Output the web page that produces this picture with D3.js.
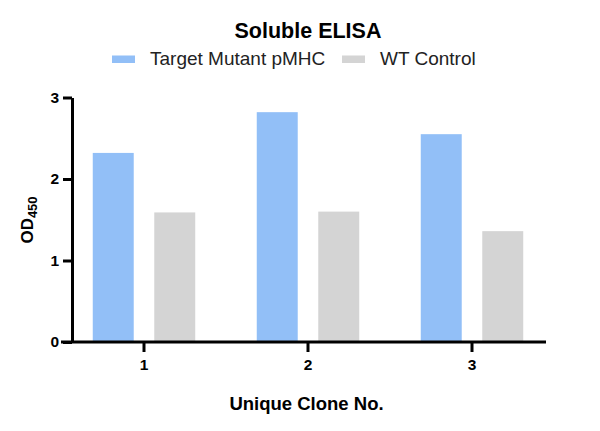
<!DOCTYPE html>
<html>
<head>
<meta charset="utf-8">
<script src="https://cdn.jsdelivr.net/npm/d3@7"></script>
<style>
  body { margin: 0; background: #fff; }
  text { font-family: "Liberation Sans", Arial, sans-serif; }
</style>
</head>
<body>
<div id="chart"></div>
<script>
// soluble ELISA bar chart

const clones = ["1", "2", "3"];
const seriesNames = ["Target Mutant pMHC", "WT Control"];
const targetValues = [2.32, 2.82, 2.55];
const controlValues = [1.59, 1.60, 1.36];
const yTicks = [0, 1, 2, 3];
const colors = ["#92BFF7", "#D4D4D4"];

const width = 600;
const height = 431;

const svg = d3.select("#chart")
    .append("svg")
    .attr("width", width)
    .attr("height", height);

const x = d3.scaleBand()
    .domain(clones)
    .range([62, 554]);

const xInner = d3.scaleBand()
    .domain(seriesNames)
    .range([0, x.bandwidth()])
    .paddingInner(0.334)
    .paddingOuter(0.5);

const y = d3.scaleLinear()
    .domain([0, 3])
    .range([342, 97.5]);

const rows = clones.map((c, i) => ({
    clone: c,
    values: [
        { name: seriesNames[0], value: targetValues[i] },
        { name: seriesNames[1], value: controlValues[i] }
    ]
}));

// bars
const groups = svg.selectAll("g.group")
    .data(rows)
    .enter()
    .append("g")
    .attr("class", "group")
    .attr("transform", d => `translate(${x(d.clone)},0)`);

groups.selectAll("rect")
    .data(d => d.values)
    .enter()
    .append("rect")
    .attr("x", d => xInner(d.name))
    .attr("width", xInner.bandwidth())
    .attr("y", d => y(d.value))
    .attr("height", d => y(0) - y(d.value))
    .attr("fill", (d, i) => colors[i]);

// y axis
const yAxis = svg.append("g")
    .attr("transform", "translate(72,0)")
    .call(d3.axisLeft(y).tickValues(yTicks).tickFormat(d3.format("d")).tickSize(9).tickSizeOuter(0));
yAxis.select(".domain").attr("stroke-width", 3).attr("stroke", "#000");
yAxis.selectAll(".tick line").attr("stroke-width", 3).attr("stroke", "#000");
yAxis.selectAll(".tick text")
    .attr("x", -13)
    .style("font-size", "15.5px")
    .style("font-weight", "bold")
    .attr("fill", "#000");

// x axis
const xAxis = svg.append("g")
    .attr("transform", "translate(0,342)")
    .call(d3.axisBottom(x).tickSize(10).tickSizeOuter(0));
xAxis.select(".domain").remove();
xAxis.append("line")
    .attr("x1", 61).attr("x2", 546)
    .attr("y1", 0).attr("y2", 0)
    .attr("stroke", "#000")
    .attr("stroke-width", 3);
xAxis.selectAll(".tick line").attr("stroke-width", 3).attr("stroke", "#000");
xAxis.selectAll(".tick text")
    .attr("y", 17)
    .style("font-size", "15.5px")
    .style("font-weight", "bold")
    .attr("fill", "#000");

// titles
svg.append("text")
    .attr("x", 308)
    .attr("y", 38)
    .attr("text-anchor", "middle")
    .style("font-size", "21.5px")
    .style("font-weight", "bold")
    .text("Soluble ELISA");

svg.append("text")
    .attr("x", 306.5)
    .attr("y", 410)
    .attr("text-anchor", "middle")
    .style("font-size", "18.5px")
    .style("font-weight", "bold")
    .text("Unique Clone No.");

const yLabel = svg.append("text")
    .attr("transform", "translate(33,220) rotate(-90)")
    .attr("text-anchor", "middle")
    .style("font-size", "17px")
    .style("font-weight", "bold");
yLabel.append("tspan").text("OD");
yLabel.append("tspan")
    .attr("dy", 4)
    .style("font-size", "13px")
    .text("450");

// legend
const legendX = [112, 342];
const legend = svg.selectAll("g.legend")
    .data(seriesNames)
    .enter()
    .append("g")
    .attr("class", "legend")
    .attr("transform", (d, i) => `translate(${legendX[i]},55.5)`);
legend.append("rect")
    .attr("width", 23)
    .attr("height", 7.5)
    .attr("fill", (d, i) => colors[i]);
legend.append("text")
    .attr("x", 38)
    .attr("y", 9.5)
    .style("font-size", "19px")
    .attr("fill", "#222")
    .text(d => d);
</script>
</body>
</html>
